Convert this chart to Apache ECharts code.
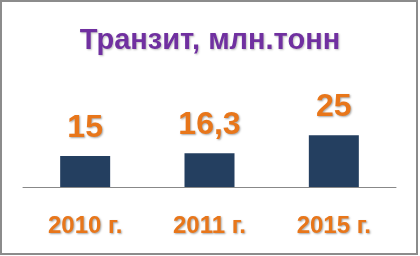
<!DOCTYPE html>
<html><head><meta charset="utf-8">
<script src="https://cdn.jsdelivr.net/npm/echarts@6/dist/echarts.min.js"></script>
<style>html,body{margin:0;padding:0;background:#fff}#c{width:420px;height:256px}</style>
</head><body><div id="c"></div>
<script>
const titleText = 'Транзит, млн.тонн';
const categories = ['2010 г.', '2011 г.', '2015 г.'];
const values = [15, 16.3, 25];
const valueLabels = ['15', '16,3', '25'];

const chart = echarts.init(document.getElementById('c'), null, {renderer: 'canvas'});
const orange = '#E8761A';
chart.setOption({
  animation: false,
  backgroundColor: '#fff',
  title: {
    text: titleText, left: 'center', top: 21,
    textStyle: {fontFamily: 'Liberation Sans', fontWeight: 'bold', fontSize: 29, color: '#7030A0',
      textShadowColor: 'rgba(0,0,0,0.25)', textShadowBlur: 2, textShadowOffsetX: 1, textShadowOffsetY: 1}
  },
  graphic: [{type: 'rect', shape: {x: 1, y: 1, width: 416, height: 253},
    style: {fill: 'none', stroke: '#8C8C8C', lineWidth: 2}, silent: true, z: 100}],
  grid: {left: 23, right: 24, top: 63, bottom: 69},
  xAxis: {
    type: 'category', data: categories,
    axisLine: {lineStyle: {color: '#888', width: 1}},
    axisTick: {show: false},
    axisLabel: {margin: 27, fontFamily: 'Liberation Sans', fontWeight: 'bold', fontSize: 24, color: orange,
      textShadowColor: 'rgba(0,0,0,0.35)', textShadowBlur: 2, textShadowOffsetX: 1, textShadowOffsetY: 1}
  },
  yAxis: {type: 'value', min: 0, max: 60, show: false, splitLine: {show: false}},
  series: [{
    type: 'bar', data: values, barWidth: 50,
    itemStyle: {color: '#243F60'},
    label: {show: true, position: 'top', distance: 12,
      formatter: p => valueLabels[p.dataIndex],
      fontFamily: 'Liberation Sans', fontWeight: 'bold', fontSize: 32, color: orange,
      textShadowColor: 'rgba(0,0,0,0.35)', textShadowBlur: 2, textShadowOffsetX: 1, textShadowOffsetY: 1}
  }]
});
</script></body></html>
